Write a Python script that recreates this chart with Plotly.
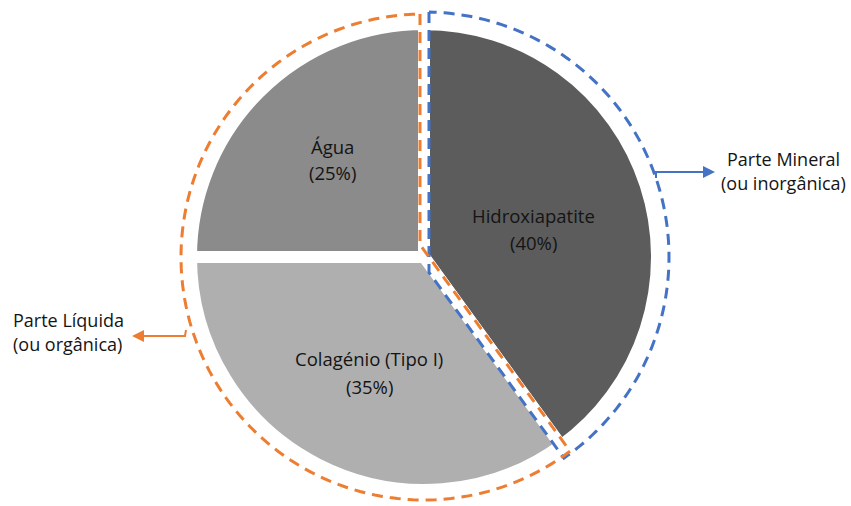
import math
import plotly.graph_objects as go

# Bone composition
labels = ["Hidroxiapatite", "Colagénio (Tipo I)", "Água"]
values = [40, 35, 25]
slice_colors = ["#5c5c5c", "#afafaf", "#8b8b8b"]

group_mineral = ["Parte Mineral", "(ou inorgânica)"]
group_liquid = ["Parte Líquida", "(ou orgânica)"]

W, H = 851, 506
CX, CY = 424, 257          # pie centre, px from top-left
R_PIE = 233                # domain radius (visible edge is R_PIE - gap/2)
GAP = 12                   # white separation between slices
BLUE = "#4472c4"
ORANGE = "#ed7d31"
TEXT = "#141414"
FONT = "Open Sans"
SLICE_FS = 18.5
CAPTION_FS = 18


def px(x, y):
    """pixel position -> paper coordinates"""
    return x / W, 1 - y / H


def polar(r, theta_deg, cx=CX, cy=CY):
    t = math.radians(theta_deg)
    return cx + r * math.sin(t), cy - r * math.cos(t)


fig = go.Figure()

x0, _ = px(CX - R_PIE, 0)
x1, _ = px(CX + R_PIE, 0)
_, y0 = px(0, CY + R_PIE)
_, y1 = px(0, CY - R_PIE)

fig.add_trace(go.Pie(
    labels=labels,
    values=values,
    sort=False,
    direction="clockwise",
    rotation=0,
    marker=dict(colors=slice_colors, line=dict(color="white", width=GAP)),
    textinfo="none",
    hoverinfo="label+percent",
    showlegend=False,
    domain=dict(x=[x0, x1], y=[y0, y1]),
))

# Boundary angle between the mineral slice and the rest
total = sum(values)
split = 360 * values[0] / total


def path_from_points(pts):
    out = []
    for i, (x, y) in enumerate(pts):
        xp, yp = px(x, y)
        out.append(("M" if i == 0 else "L") + f"{xp:.5f},{yp:.5f}")
    return " ".join(out)


def group_outline(r, off):
    """dashed outline of a group: vertical radius, split radius and the arc
    joining them; both radii are shifted sideways by `off` px into the group
    (positive = mineral side, negative = organic side)."""
    n = 120
    xv = CX + off
    yv_top = CY - math.sqrt(r * r - off * off)
    t = math.radians(split)
    nx, ny = math.cos(t), math.sin(t)       # normal toward smaller angle
    dx, dy = math.sin(t), -math.cos(t)      # direction of split radius
    ox, oy = off * nx, off * ny
    tt = (xv - CX - ox) / dx
    ix, iy = CX + ox + tt * dx, CY + oy + tt * dy
    b = ox * dx + oy * dy
    c = ox * ox + oy * oy - r * r
    s = -b + math.sqrt(b * b - c)
    ex, ey = CX + ox + s * dx, CY + oy + s * dy
    a_end = math.degrees(math.atan2(ex - CX, -(ey - CY))) % 360
    a_top = math.degrees(math.atan2(xv - CX, -(yv_top - CY))) % 360
    pts = [(xv, yv_top), (ix, iy), (ex, ey)]
    if off < 0 and a_top < a_end:
        a_top += 360
    for i in range(1, n + 1):
        pts.append(polar(r, a_end + (a_top - a_end) * i / n))
    return path_from_points(pts)


shapes = []
dash = "11px,7px"
shapes.append(dict(type="path", xref="paper", yref="paper",
                   path=group_outline(245, 5),
                   line=dict(color=BLUE, width=3, dash=dash)))
shapes.append(dict(type="path", xref="paper", yref="paper",
                   path=group_outline(243, -4),
                   line=dict(color=ORANGE, width=3, dash=dash)))

# Elbow connectors to the group captions
shapes.append(dict(type="path", xref="paper", yref="paper",
                   path=path_from_points([(656, 178), (656, 172), (704, 172)]),
                   line=dict(color=BLUE, width=2)))
shapes.append(dict(type="path", xref="paper", yref="paper",
                   path=path_from_points([(186, 330), (185, 336), (144, 336)]),
                   line=dict(color=ORANGE, width=2)))

annotations = []
# arrow heads
ax_, ay_ = px(715, 172)
annotations.append(dict(x=ax_, y=ay_, xref="paper", yref="paper", text="",
                        showarrow=True, ax=-20, ay=0, arrowhead=2,
                        arrowsize=1.2, arrowwidth=2, arrowcolor=BLUE))
ax_, ay_ = px(132, 336)
annotations.append(dict(x=ax_, y=ay_, xref="paper", yref="paper", text="",
                        showarrow=True, ax=20, ay=0, arrowhead=2,
                        arrowsize=1.2, arrowwidth=2, arrowcolor=ORANGE))


def text_line(txt, x, y, size, xanchor="center"):
    lx, ly = px(x, y)
    annotations.append(dict(x=lx, y=ly, xref="paper", yref="paper",
                            text=txt, showarrow=False,
                            xanchor=xanchor, yanchor="middle",
                            font=dict(family=FONT, size=size, color=TEXT)))


# group captions
text_line(group_mineral[0], 783, 159, CAPTION_FS)
text_line(group_mineral[1], 783, 183, CAPTION_FS)
text_line(group_liquid[0], 11, 320, CAPTION_FS, xanchor="left")
text_line(group_liquid[1], 11, 344, CAPTION_FS, xanchor="left")

# slice labels: name on the first line, share on the second
label_pos = {"Hidroxiapatite": (533, 215, 242),
             "Colagénio (Tipo I)": (369, 358, 386),
             "Água": (332, 146, 172)}
for lab, val in zip(labels, values):
    x, y_name, y_val = label_pos[lab]
    text_line(lab, x, y_name, SLICE_FS)
    text_line(f"({val}%)", x, y_val, SLICE_FS)

fig.update_layout(
    width=W, height=H,
    margin=dict(l=0, r=0, t=0, b=0),
    paper_bgcolor="white",
    plot_bgcolor="white",
    shapes=shapes,
    annotations=annotations,
)

fig.write_html("out.html")
